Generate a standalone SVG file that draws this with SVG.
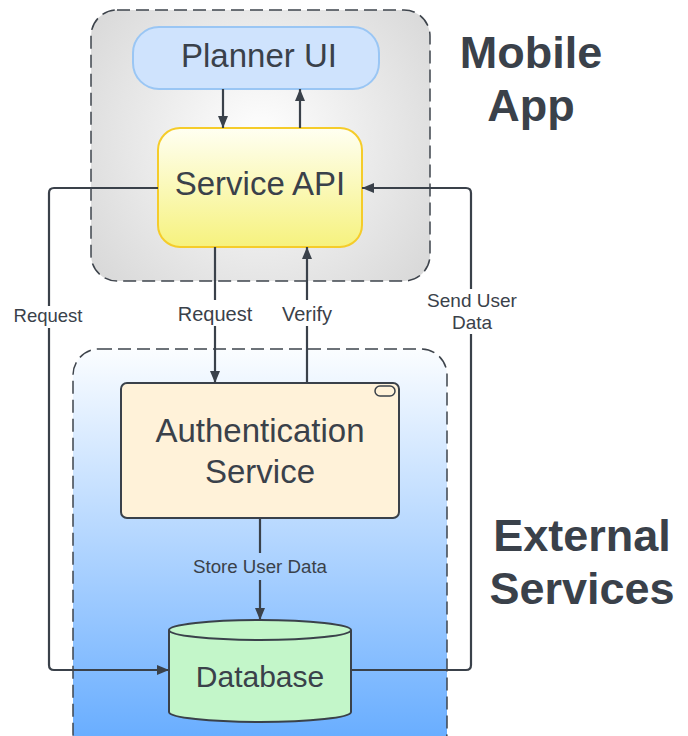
<svg xmlns="http://www.w3.org/2000/svg" width="688" height="736" viewBox="0 0 688 736">
<defs>
<radialGradient id="gMobile" cx="260" cy="140" r="230" gradientUnits="userSpaceOnUse">
<stop offset="0" stop-color="#ffffff"/>
<stop offset="1" stop-color="#d5d5d5"/>
</radialGradient>
<linearGradient id="gExt" x1="0" y1="349" x2="0" y2="740" gradientUnits="userSpaceOnUse">
<stop offset="0" stop-color="#fbfdff"/>
<stop offset="1" stop-color="#68adff"/>
</linearGradient>
<linearGradient id="gApi" x1="0" y1="0" x2="0" y2="1">
<stop offset="0" stop-color="#fffff2"/>
<stop offset="1" stop-color="#f6f27e"/>
</linearGradient>
<marker id="arr" viewBox="0 0 12 10" refX="12" refY="5" markerWidth="12" markerHeight="10" markerUnits="userSpaceOnUse" orient="auto">
<path d="M0,0 L12,5 L0,10 Z" fill="#3a414a"/>
</marker>
<style>
.txt{font-family:"Liberation Sans",Arial,sans-serif;fill:#3a414a;text-anchor:middle}
.big{font-size:33px}
.title{font-size:45px;font-weight:bold}
.cont{stroke:#3e444c;stroke-width:1.5;stroke-dasharray:13 6}
.ln{fill:none;stroke:#3a414a;stroke-width:2.2;stroke-linejoin:round}
.node{stroke:#3a414a;stroke-width:2}
</style>
</defs>

<g id="mobile-app">
<rect class="cont" x="91" y="10" width="339" height="271" rx="26" fill="url(#gMobile)"/>
<text class="txt title" x="531" y="68">Mobile</text>
<text class="txt title" x="531" y="121">App</text>
</g>

<g id="external-services">
<rect class="cont" x="73" y="349" width="374" height="410" rx="26" fill="url(#gExt)"/>
<text class="txt title" x="582" y="551">External</text>
<text class="txt title" x="582" y="604">Services</text>
</g>

<g id="planner-ui">
<rect x="133" y="27" width="246" height="62" rx="26" fill="#cfe3fd" stroke="#9ac6f4" stroke-width="2"/>
<text class="txt big" x="259" y="67">Planner UI</text>
</g>

<g id="service-api">
<rect x="158" y="128" width="204" height="119" rx="22" fill="url(#gApi)" stroke="#f5cc2a" stroke-width="2"/>
<text class="txt big" x="260" y="195">Service API</text>
</g>

<g id="authentication-service">
<rect class="node" x="121" y="383" width="278" height="135" rx="6" fill="#fff2d9"/>
<rect x="375" y="386" width="20" height="10" rx="5" fill="none" stroke="#3a414a" stroke-width="1.5"/>
<text class="txt big" x="260" y="442">Authentication</text>
<text class="txt big" x="260" y="483">Service</text>
</g>

<g id="database">
<path class="node" d="M169,630 L169,712 A91,10 0 0 0 351,712 L351,630 A91,10 0 0 0 169,630 Z" fill="#c3f6c9"/>
<path d="M169,630 A91,10 0 0 0 351,630" fill="none" stroke="#3a414a" stroke-width="2"/>
<text class="txt" style="font-size:30px" x="260" y="687">Database</text>
</g>

<g id="connectors">
<line class="ln" x1="223" y1="89" x2="223" y2="128" marker-end="url(#arr)"/>
<line class="ln" x1="300" y1="128" x2="300" y2="89" marker-end="url(#arr)"/>
<line class="ln" x1="215" y1="247" x2="215" y2="300"/>
<line class="ln" x1="215" y1="326" x2="215" y2="383" marker-end="url(#arr)"/>
<line class="ln" x1="307" y1="383" x2="307" y2="326"/>
<line class="ln" x1="307" y1="300" x2="307" y2="247" marker-end="url(#arr)"/>
<line class="ln" x1="260" y1="518" x2="260" y2="553"/>
<line class="ln" x1="260" y1="580" x2="260" y2="620" marker-end="url(#arr)"/>
<path class="ln" d="M158,188 L54,188 Q49,188 49,193 L49,306"/>
<path class="ln" d="M49,328 L49,665 Q49,670 54,670 L169,670" marker-end="url(#arr)"/>
<path class="ln" d="M351,670 L466,670 Q471,670 471,665 L471,334"/>
<path class="ln" d="M471,289 L471,193 Q471,188 466,188 L362,188" marker-end="url(#arr)"/>
<text class="txt" style="font-size:20px" x="215" y="321">Request</text>
<text class="txt" style="font-size:20px" x="307" y="321">Verify</text>
<text class="txt" style="font-size:18.5px" x="48" y="322">Request</text>
<text class="txt" style="font-size:19px" x="472" y="307">Send User</text>
<text class="txt" style="font-size:19px" x="472" y="329">Data</text>
<text class="txt" style="font-size:18.7px" x="260" y="573">Store User Data</text>
</g>
</svg>
